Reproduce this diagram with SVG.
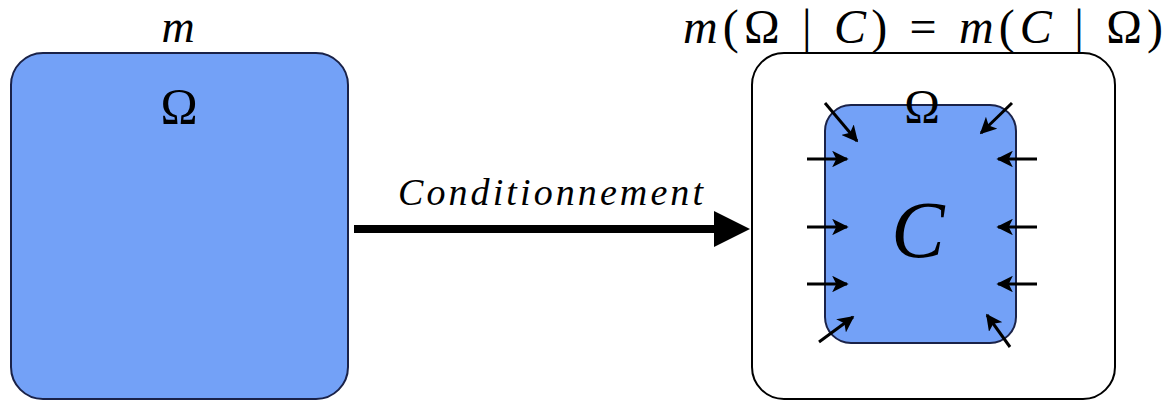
<svg xmlns="http://www.w3.org/2000/svg" width="1173" height="405" viewBox="0 0 1173 405">
<style>
.t{font-family:"Liberation Serif","DejaVu Serif",serif;fill:#000}
.i{font-style:italic}
.blue{fill:#73a1f7;stroke:#1a2248;stroke-width:2}
.sa{stroke:#000;stroke-width:3;fill:none;marker-end:url(#ah)}
</style>
<defs>
<marker id="ah" viewBox="0 0 10 10" refX="9" refY="5" markerWidth="5.5" markerHeight="5.5" orient="auto" markerUnits="strokeWidth">
<path d="M0,0 L10,5 L0,10 L2.5,5 Z" fill="#000"/>
</marker>
</defs>
<rect width="1173" height="405" fill="#fff"/>
<g id="node-m">
<rect class="blue" x="11" y="53" width="337" height="346" rx="32"/>
<text class="t i" x="178" y="42" font-size="46" text-anchor="middle">m</text>
<text class="t" x="179" y="123" font-size="50" text-anchor="middle">Ω</text>
</g>
<g id="node-cond">
<rect x="752" y="53" width="363" height="346" rx="32" fill="#fff" stroke="#000" stroke-width="2"/>
<text class="t" x="683" y="43" font-size="48" textLength="480" lengthAdjust="spacing"><tspan font-style="italic">m</tspan>(Ω | <tspan font-style="italic">C</tspan>) = <tspan font-style="italic">m</tspan>(<tspan font-style="italic">C</tspan> | Ω)</text>
<rect class="blue" x="825" y="105" width="191" height="238" rx="26"/>
<text class="t" x="922" y="123" font-size="48" text-anchor="middle">Ω</text>
<text class="t i" x="918" y="257" font-size="80" text-anchor="middle">C</text>
</g>
<g id="connectors">
<line x1="354" y1="229" x2="718" y2="229" stroke="#000" stroke-width="8"/>
<path d="M750,229 L714,211 L714,247 Z" fill="#000"/>
<text class="t i" x="398" y="205" font-size="38" textLength="305" lengthAdjust="spacing">Conditionnement</text>
<line class="sa" x1="807" y1="159" x2="847" y2="159"/>
<line class="sa" x1="807" y1="227" x2="847" y2="227"/>
<line class="sa" x1="807" y1="284" x2="847" y2="284"/>
<line class="sa" x1="1037" y1="159" x2="998" y2="159"/>
<line class="sa" x1="1037" y1="227" x2="998" y2="227"/>
<line class="sa" x1="1037" y1="284" x2="998" y2="284"/>
<line class="sa" x1="825" y1="103" x2="857" y2="141"/>
<line class="sa" x1="1012" y1="103" x2="981" y2="133"/>
<line class="sa" x1="819" y1="342" x2="853" y2="317"/>
<line class="sa" x1="1010" y1="347" x2="987" y2="315"/>
</g>
</svg>
